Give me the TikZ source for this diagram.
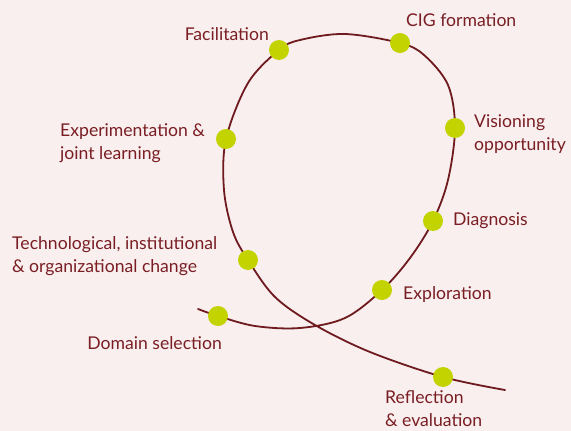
\documentclass[tikz,border=0pt]{standalone}
\usepackage{fontspec}
\setmainfont{Lato}
\definecolor{bgc}{HTML}{F8EFEE}
\definecolor{curvec}{HTML}{6E1A1E}
\definecolor{dotc}{HTML}{C3D300}
\definecolor{txtc}{HTML}{7A1E24}
\begin{document}
\begin{tikzpicture}[x=1pt,y=-1pt,
  dotnode/.style={circle,fill=dotc,minimum size=20pt,inner sep=0pt},
  lbl/.style={text=txtc,font=\fontsize{17.6}{23}\selectfont,inner sep=0pt,align=left},
  lblr/.style={lbl,align=right}]
\fill[bgc] (0,0) rectangle (571,431);
\useasboundingbox (0,0) rectangle (571,431);
\draw[curvec,line width=1.8pt,line cap=round] plot[smooth,tension=0.55] coordinates {
 (198,309) (218,316) (255,326) (300,328) (345,318) (382,290) (410,258) (433,221)
 (448,180) (455,128) (448,85) (424,55) (400,43) (345,34) (300,40) (279,50)
 (248,83) (226,139) (224,190) (233,232) (248,260) (275,297) (315,325) (370,352)
 (443,377) (505,390)};
\node[dotnode] (fac) at (279,50) {};
\node[dotnode] (cig) at (400,43) {};
\node[dotnode] (exp) at (226,139) {};
\node[dotnode] (vis) at (455,128) {};
\node[dotnode] (dia) at (433,221) {};
\node[dotnode] (tec) at (248,260) {};
\node[dotnode] (xpl) at (382,290) {};
\node[dotnode] (dom) at (218,316) {};
\node[dotnode] (ref) at (443,377) {};
\node[lbl,anchor=east] (tfac) at (269,34) {Facilitation};
\node[lbl,anchor=west] (tcig) at (406,20) {CIG formation};
\node[lbl,anchor=west] (texp) at (60,143) {Experimentation \&\\joint learning};
\node[lbl,anchor=west] (tvis) at (474,134) {Visioning\\opportunity};
\node[lbl,anchor=west] (tdia) at (453,221) {Diagnosis};
\node[lbl,anchor=west] (ttec) at (12,256) {Technological, institutional\\\& organizational change};
\node[lbl,anchor=west] (txpl) at (403,295) {Exploration};
\node[lbl,anchor=east] (tdom) at (222,343) {Domain selection};
\node[lbl,anchor=west] (tref) at (385,409) {Reflection\\\& evaluation};
\end{tikzpicture}
\end{document}
